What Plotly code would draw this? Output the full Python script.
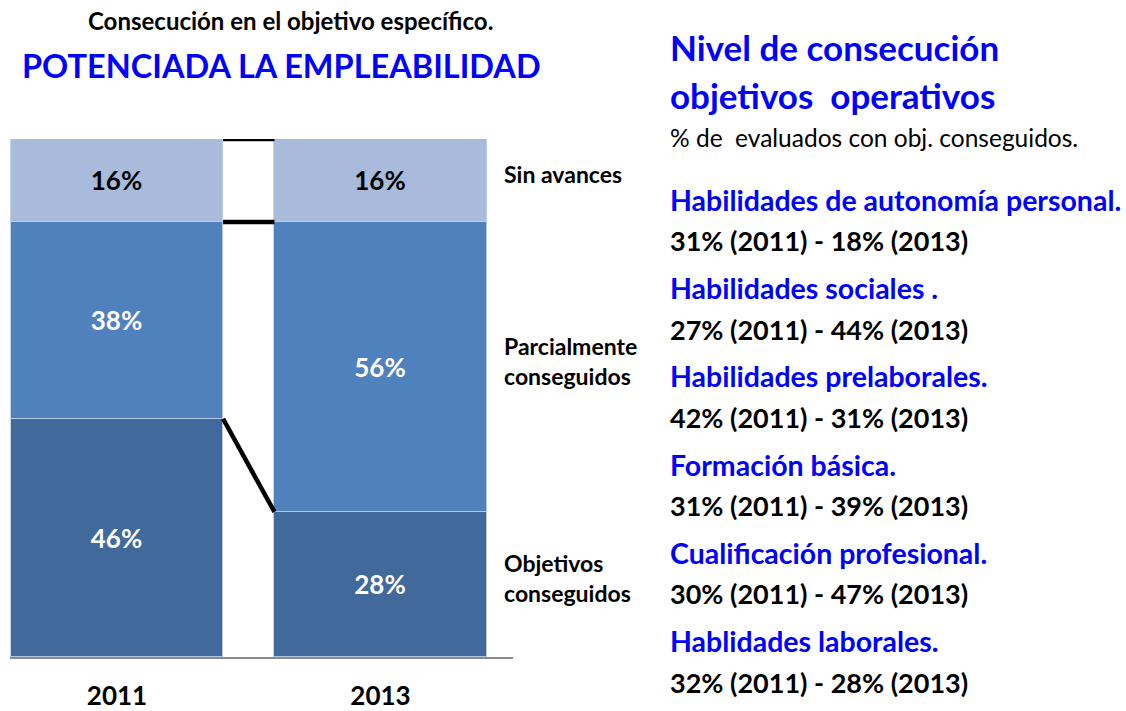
import plotly.graph_objects as go

# ---------------- data ----------------
years = ["2011", "2013"]
series_names = ["Objetivos conseguidos", "Parcialmente conseguidos", "Sin avances"]
series_labels = ["Objetivos<br>conseguidos", "Parcialmente<br>conseguidos", "Sin avances"]
objetivos = [46, 28]
parcial = [38, 56]
sin_avances = [16, 16]

areas = ["Habilidades de autonomía personal.", "Habilidades sociales .",
         "Habilidades prelaborales.", "Formación básica.",
         "Cualificación profesional.", "Hablidades laborales."]
pct_2011 = [31, 27, 42, 31, 30, 32]
pct_2013 = [18, 44, 31, 39, 47, 28]

# ---------------- style / layout ----------------
W, H = 1126, 711
FONT = "Lato"
BLUE = "#0000FF"
colors = ["#41699B", "#4F81BD", "#A8BBDA"]
text_colors = ["white", "white", "black"]
bar_w = 0.805
xpos = [0, 1]

def px(x):
    return x / W

def py(y):
    return 1 - y / H

fig = go.Figure()
series = [objetivos, parcial, sin_avances]
for name, vals, col, tc in zip(series_names, series, colors, text_colors):
    fig.add_trace(go.Bar(
        x=xpos, y=vals, name=name, width=bar_w,
        marker=dict(color=col, line=dict(color="rgba(190,208,232,0.9)", width=1)),
        text=[f"{v}%" for v in vals], textposition="inside",
        insidetextanchor="middle", textangle=0,
        textfont=dict(family=FONT, size=26, color=tc, weight="bold"),
        hoverinfo="skip",
    ))

# connector lines between cumulative levels
cum = [0, 0]
for vals in series:
    cum = [c + v for c, v in zip(cum, vals)]
    fig.add_trace(go.Scatter(
        x=[xpos[0] + bar_w / 2, xpos[1] - bar_w / 2], y=cum,
        mode="lines", line=dict(color="black", width=4.5),
        hoverinfo="skip", showlegend=False,
    ))

fig.update_layout(
    width=W, height=H, margin=dict(l=0, r=0, t=0, b=0, autoexpand=False),
    barmode="stack", showlegend=False, bargap=0,
    plot_bgcolor="white", paper_bgcolor="white",
    xaxis=dict(domain=[px(10), px(513)], range=[-0.4061, 1.5028],
               tickvals=xpos, ticktext=years, showgrid=False, zeroline=False,
               showline=True, linecolor="#8C8C8C", linewidth=2,
               ticks="", ticklabelstandoff=15, automargin=False,
               tickfont=dict(family=FONT, size=26, color="black", weight="bold"),
               fixedrange=True),
    yaxis=dict(domain=[py(657), py(139)], range=[0, 100], visible=False,
               automargin=False, fixedrange=True),
)

ann = []
def add(text, x, y, size, color="black", weight="bold", xanchor="left"):
    ann.append(dict(text=text, x=px(x), y=py(y), xref="paper", yref="paper",
                    xanchor=xanchor, yanchor="middle", showarrow=False,
                    font=dict(family=FONT, size=size, color=color, weight=weight)))

# left titles
add("Consecución en el objetivo específico.", 290, 21, 24, xanchor="center")
add("POTENCIADA LA EMPLEABILIDAD", 281, 65, 32.5, color=BLUE, xanchor="center")

# series labels next to the 2013 bar, at segment centres
cum = 0
for lab, vals in zip(series_labels, series):
    centre = cum + vals[1] / 2
    cum += vals[1]
    ann.append(dict(text=lab, x=px(502), y=centre, xref="paper", yref="y",
                    xanchor="left", yanchor="middle", showarrow=False, yshift=6,
                    align="left",
                    font=dict(family=FONT, size=23, color="black", weight="bold")))

# right panel
add("Nivel de consecución", 668, 47, 35, color=BLUE)
add("objetivos  operativos", 668, 95, 35, color=BLUE)
add("% de  evaluados con obj. conseguidos.", 668, 137, 24.5, weight="normal")
for i, (a, p1, p2) in enumerate(zip(areas, pct_2011, pct_2013)):
    yb = 200 + 88.2 * i
    add(a, 668, yb, 28.5, color=BLUE)
    add(f"{p1}% (2011) - {p2}% (2013)", 668, yb + 41, 27)

fig.update_layout(annotations=ann)
fig.write_html("out.html",
               config={"responsive": False, "displayModeBar": False},
               post_script="document.body.style.margin='0';document.body.style.overflow='hidden';")
